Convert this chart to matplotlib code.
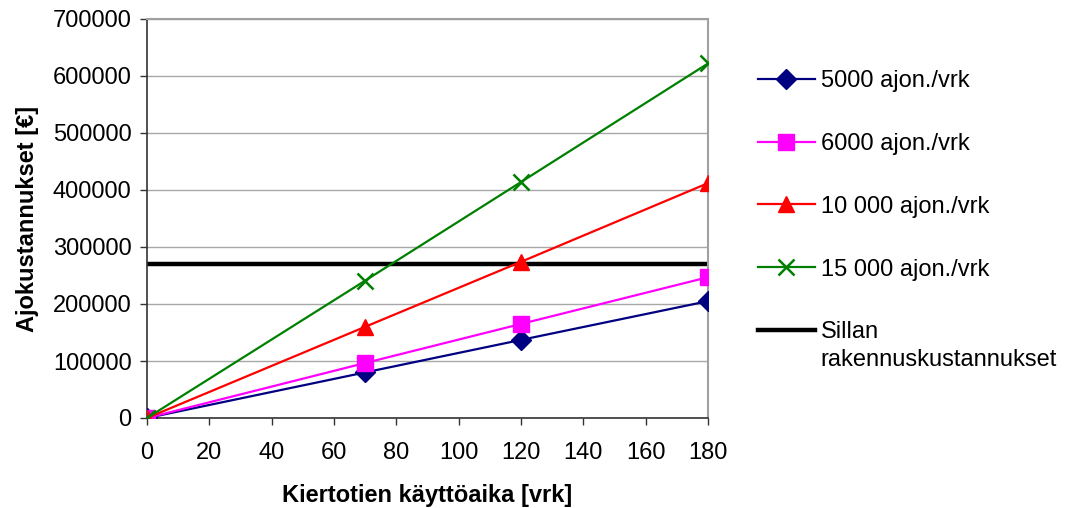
import matplotlib
matplotlib.use("Agg")
import matplotlib.pyplot as plt
from matplotlib.lines import Line2D

plt.rcParams['font.family'] = ['Liberation Sans', 'DejaVu Sans']

days = [0, 70, 120, 180]
s5000 = [0, 80000, 137000, 205000]
s6000 = [0, 96500, 165000, 247000]
s10000 = [0, 160000, 274000, 412000]
s15000 = [0, 241000, 414000, 622000]
bridge_x = [0, 180]
bridge_y = [270000, 270000]

labels = ["5000 ajon./vrk", "6000 ajon./vrk", "10 000 ajon./vrk", "15 000 ajon./vrk", "Sillan"]
label_extra = "rakennuskustannukset"
xticks = list(range(0, 181, 20))
yticks = list(range(0, 700001, 100000))

fig = plt.figure(figsize=(10.74, 5.08), dpi=100)
ax = fig.add_axes([147/1074, 1-418/508, (708-147)/1074, (418-19)/508])

fs = 17
lw = 1.6
blw = 3.2
ax.plot(bridge_x, bridge_y, color='black', lw=blw, solid_capstyle='projecting', zorder=2)
h1, = ax.plot(days, s5000, color='#000080', lw=lw, marker='D', ms=10, zorder=3)
h2, = ax.plot(days, s6000, color='#FF00FF', lw=lw, marker='s', ms=11, zorder=3)
h3, = ax.plot(days, s10000, color='#FF0000', lw=lw, marker='^', ms=12, zorder=3)
h4, = ax.plot(days, s15000, color='#008000', lw=lw, marker='x', ms=12, mew=1.8, zorder=4)
h5 = Line2D([], [], color='black', lw=blw)

ax.set_xlim(0, 180)
ax.set_ylim(0, 700000)
ax.set_xticks(xticks)
ax.set_yticks(yticks)
ax.set_xticklabels([str(v) for v in xticks], fontsize=fs)
ax.set_yticklabels([str(v) for v in yticks], fontsize=fs)
ax.yaxis.grid(True, color='#a8a8a8', lw=1.0)
ax.set_axisbelow(True)
for side in ['top', 'right']:
    ax.spines[side].set_color('#a0a0a0')
    ax.spines[side].set_linewidth(1.5)
for side in ['left', 'bottom']:
    ax.spines[side].set_color('#333333')
    ax.spines[side].set_linewidth(1.2)
ax.tick_params(axis='both', direction='out', length=5, width=1.0, color='#333333')
ax.tick_params(axis='x', pad=12)
ax.tick_params(axis='y', pad=6)
ax.set_xlabel("Kiertotien käyttöaika [vrk]", fontsize=fs, fontweight='bold', labelpad=15)
ax.set_ylabel("Ajokustannukset [€]", fontsize=fs, fontweight='bold', labelpad=10)

leg = fig.legend([h1, h2, h3, h4, h5], labels, loc='upper left',
                 bbox_to_anchor=(758/1074, 1-70/508), frameon=False,
                 fontsize=fs, handlelength=2.4, handletextpad=0.25,
                 labelspacing=1.73, borderpad=0, borderaxespad=0)
fig.canvas.draw()
last = leg.get_texts()[-1]
bb = last.get_window_extent()
fig.text(bb.x0 / fig.bbox.width, bb.y0 / fig.bbox.height - 0.012, label_extra,
         fontsize=fs, va='top', ha='left')

fig.savefig("out.png", dpi=100)
